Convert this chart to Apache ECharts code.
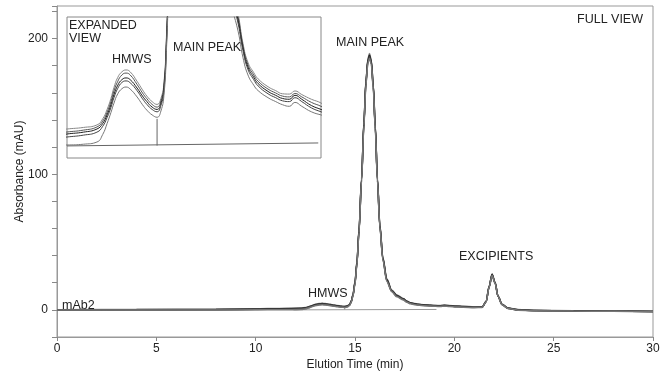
<!DOCTYPE html>
<html>
<head>
<meta charset="utf-8">
<script src="https://cdn.jsdelivr.net/npm/echarts@6/dist/echarts.min.js"></script>
<style>
  html, body { margin: 0; padding: 0; background: #fff; }
  #chart { width: 666px; height: 376px; }
</style>
</head>
<body>
<div id="chart"></div>
<script>
// elution times (min), shared by all the injections
var times = [0, 4, 8, 10,
  11.2, 11.8, 12.29, 12.5, 12.66, 12.8, 12.91, 13.05, 13.2, 13.35,
  13.5, 13.75, 13.95, 14.11, 14.3, 14.48, 14.62, 14.73, 14.82, 14.9,
  15.0, 15.1, 15.2, 15.33, 15.45, 15.55, 15.65, 15.73, 15.82, 15.92,
  16.02, 16.13, 16.25, 16.4, 16.6, 16.85, 17.1, 17.43, 17.61, 17.79,
  18.0, 18.16, 18.52, 18.8, 19.05, 19.3, 19.5, 19.75, 20.1, 20.45,
  21.0, 21.4, 21.6, 21.75, 21.9, 22.05, 22.2, 22.4, 22.7, 23.2,
  24, 26, 28, 30];

// absorbance (mAU), one array per overlaid injection
var injA = [0.1, 0.3, 0.5, 0.8,
  1.05, 1.15, 1.31, 1.7, 2.3, 3.0, 3.7, 4.35, 4.7, 4.82,
  4.7, 4.1, 3.55, 3.15, 2.8, 2.62, 3.0, 4.0, 6.9, 11.5,
  21, 36, 59, 97, 139, 169, 185, 189, 184, 166,
  136, 97, 63, 39, 23, 14.6, 11, 8.4, 6.5, 5.3,
  4.65, 4.25, 3.75, 3.5, 3.3, 3.28, 3.48, 3.25, 2.95, 2.71,
  2.1, 2.2, 6.2, 17.3, 26.5, 20.3, 10.2, 4.2, 1.4, 0.2,
  -0.4, -0.7, -0.9, -1.1];
var injB = [0.05, 0.2, 0.35, 0.6,
  0.86, 0.98, 1.18, 1.55, 2.12, 2.8, 3.48, 4.1, 4.5, 4.62,
  4.5, 3.9, 3.35, 2.98, 2.62, 2.45, 2.85, 3.85, 6.7, 11.2,
  20.5, 35.5, 58.5, 96.5, 138.5, 168.5, 184.5, 188, 183.5, 165.5,
  135.5, 96.5, 62.5, 38.5, 22.5, 14.3, 10.8, 8.2, 6.35, 5.15,
  4.5, 4.1, 3.6, 3.35, 3.15, 3.1, 3.32, 3.1, 2.75, 2.5,
  2.0, 2.1, 6.1, 17.1, 26.2, 20.1, 10.1, 4.1, 1.3, 0.1,
  -0.45, -0.75, -0.95, -1.15];
var injC = [0, 0.1, 0.2, 0.4,
  0.73, 0.85, 1.05, 1.4, 1.95, 2.6, 3.25, 3.85, 4.2, 4.31,
  4.2, 3.67, 3.15, 2.8, 2.45, 2.3, 2.7, 3.67, 6.5, 11,
  20, 35, 58, 96, 138, 168, 184, 187.5, 183, 165,
  135, 96, 62, 38, 22, 14, 10.5, 8.0, 6.2, 5.0,
  4.35, 3.95, 3.45, 3.2, 3.0, 2.95, 3.2, 2.95, 2.55, 2.3,
  1.9, 2.0, 6, 17, 26, 20, 10, 4, 1.2, 0,
  -0.5, -0.8, -1, -1.2];
var injD = [-0.05, 0.05, 0.1, 0.3,
  0.54, 0.66, 0.85, 1.22, 1.78, 2.42, 3.05, 3.65, 4.02, 4.12,
  4.0, 3.5, 2.98, 2.62, 2.3, 2.15, 2.55, 3.5, 6.3, 10.8,
  19.5, 34.5, 57.5, 95.5, 137, 167, 183, 186.5, 182, 164,
  134, 95.5, 61.5, 37.5, 21.5, 13.7, 10.2, 7.8, 6.05, 4.85,
  4.2, 3.8, 3.3, 3.05, 2.85, 2.8, 3.05, 2.8, 2.4, 2.15,
  1.8, 1.9, 5.9, 16.8, 25.7, 19.8, 9.9, 3.9, 1.1, -0.1,
  -0.55, -0.85, -1.05, -1.25];
var injE = [-0.1, -0.05, -0.05, 0,
  0.03, 0.08, 0.22, 0.7, 1.4, 2.1, 2.7, 3.3, 3.62, 3.73,
  3.6, 3.1, 2.6, 2.25, 1.95, 1.8, 2.2, 3.2, 6.0, 10.5,
  19, 34, 57, 95, 136, 166, 182, 185.5, 181, 163,
  133, 95, 61, 37, 21, 13.4, 9.6, 7.3, 5.6, 4.5,
  3.85, 3.5, 3.05, 2.8, 2.6, 2.5, 2.75, 2.5, 2.15, 1.95,
  1.7, 1.8, 5.8, 16.6, 25.4, 19.6, 9.8, 3.8, 1.0, -0.2,
  -0.6, -0.9, -1.1, -1.3];

var injections = [injA, injB, injC, injD, injE];
var traceColors = ['#888', '#555', '#1e1e1e', '#444', '#777'];

// integration baselines and the HMWS / main peak drop line
var mainBaseline = [[11.9, 0], [19.1, 0.3]];
var mainDrop = [[14.48, 0.1], [14.48, 2.0]];
var insetBaseline = [[11.2, -0.03], [20.35, 0.16]];
var insetDrop = [[14.48, -0.01], [14.48, 1.7]];

var yTickLabels = [0, 100, 200];
var xTickLabels = [0, 5, 10, 15, 20, 25, 30];

function pairs(v) {
  return times.map(function (t, i) { return [t, v[i]]; });
}

var series = [];
injections.forEach(function (v, i) {
  series.push({
    type: 'line', xAxisIndex: 0, yAxisIndex: 0, data: pairs(v),
    symbol: 'none', smooth: 0.3, smoothMonotone: 'x', z: 3,
    lineStyle: { color: traceColors[i], width: 1.5 }
  });
});
series.push({ type: 'line', xAxisIndex: 0, yAxisIndex: 0, data: mainBaseline, symbol: 'none', z: 2,
  lineStyle: { color: '#999', width: 1 } });
series.push({ type: 'line', xAxisIndex: 0, yAxisIndex: 0, data: mainDrop, symbol: 'none', z: 2,
  lineStyle: { color: '#999', width: 1 } });
injections.forEach(function (v, i) {
  series.push({
    type: 'line', xAxisIndex: 1, yAxisIndex: 1, data: pairs(v),
    symbol: 'none', smooth: 0.5, z: 6, clip: true,
    lineStyle: { color: traceColors[i], width: 1 }
  });
});
series.push({ type: 'line', xAxisIndex: 1, yAxisIndex: 1, data: insetBaseline, symbol: 'none', z: 6,
  lineStyle: { color: '#666', width: 1 } });
series.push({ type: 'line', xAxisIndex: 1, yAxisIndex: 1, data: insetDrop, symbol: 'none', z: 6,
  lineStyle: { color: '#666', width: 1 } });

var font = 'Liberation Sans, Arial, sans-serif';
var note = function (text, pos) {
  return Object.assign({ type: 'text', z: 10, style: { text: text, fill: '#222', font: '12.5px ' + font } }, pos);
};

var chart = echarts.init(document.getElementById('chart'));
chart.setOption({
  animation: false,
  textStyle: { fontFamily: font },
  grid: [
    { left: 57, right: 13, top: 6, bottom: 38, show: true, borderColor: '#999', borderWidth: 1, z: 0 },
    { left: 67, top: 17, width: 254, height: 141, show: true, borderColor: '#888', borderWidth: 1,
      backgroundColor: '#fff', z: 5 }
  ],
  xAxis: [
    {
      type: 'value', gridIndex: 0, min: 0, max: 30, interval: 5,
      name: 'Elution Time (min)', nameLocation: 'middle', nameGap: 22, nameMoveOverlap: false,
      nameTextStyle: { color: '#222', fontSize: 12, fontFamily: font },
      axisLine: { onZero: false, lineStyle: { color: '#999' } },
      axisTick: { show: true, length: 4, lineStyle: { color: '#888' } },
      axisLabel: { color: '#222', fontSize: 12, margin: 6, fontFamily: font,
        formatter: function (v) { return xTickLabels.indexOf(v) >= 0 ? String(v) : ''; } },
      splitLine: { show: false }
    },
    { type: 'value', gridIndex: 1, min: 11.2, max: 20.45, show: false, splitLine: { show: false } }
  ],
  yAxis: [
    {
      type: 'value', gridIndex: 0, min: -20, max: 224, interval: 20,
      name: 'Absorbance (mAU)', nameLocation: 'middle', nameGap: 31, nameMoveOverlap: false,
      nameTextStyle: { color: '#222', fontSize: 12, fontFamily: font },
      axisLine: { show: true, onZero: false, lineStyle: { color: '#999' } },
      axisTick: { show: true, length: 5, lineStyle: { color: '#888' } },
      axisLabel: { color: '#222', fontSize: 12, margin: 9, fontFamily: font,
        formatter: function (v) { return yTickLabels.indexOf(v) >= 0 ? String(v) : ''; } },
      splitLine: { show: false }
    },
    { type: 'value', gridIndex: 1, min: -0.8, max: 8.2, show: false, splitLine: { show: false } }
  ],
  graphic: [
    note('FULL VIEW', { right: 23, top: 13 }),
    note('MAIN PEAK', { left: 336, top: 36 }),
    note('HMWS', { left: 308, top: 287 }),
    note('EXCIPIENTS', { left: 459, top: 250 }),
    note('mAb2', { left: 62, top: 299 }),
    note('EXPANDED', { left: 69, top: 19 }),
    note('VIEW', { left: 69, top: 32 }),
    note('HMWS', { left: 112, top: 53 }),
    note('MAIN PEAK', { left: 173, top: 41 })
  ],
  series: series
});
</script>
</body>
</html>
